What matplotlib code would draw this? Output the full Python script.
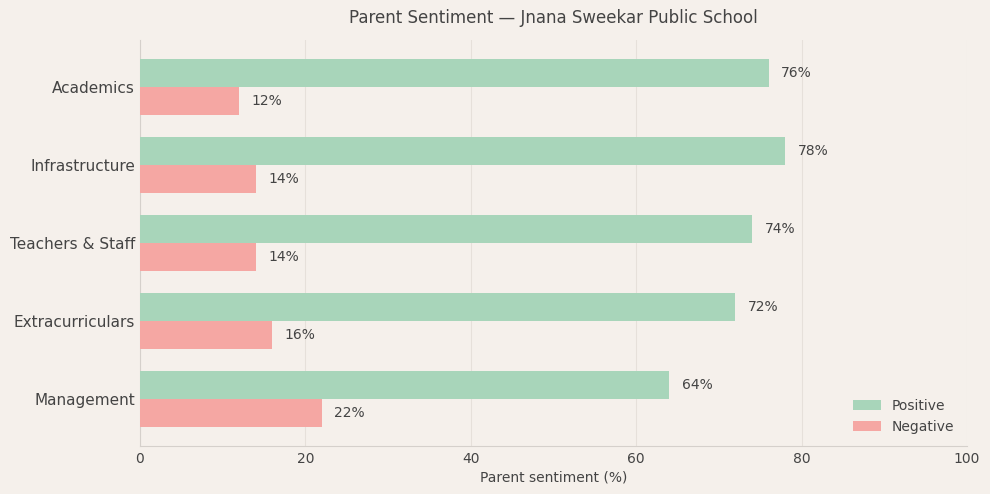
import matplotlib
matplotlib.use("Agg")
import matplotlib.pyplot as plt
import numpy as np

categories = ["Academics", "Infrastructure", "Teachers & Staff", "Extracurriculars", "Management"]
positive = [76, 78, 74, 72, 64]
negative = [12, 14, 14, 16, 22]

bg = "#f5f0eb"
green = "#a8d5ba"
red = "#f5a7a3"
txt = "#444444"

fig = plt.figure(figsize=(9.9, 4.94), dpi=100, facecolor=bg)
ax = fig.add_axes([140/990, 1-446/494, (967-140)/990, (446-40)/494], facecolor=bg)

y = np.arange(len(categories))[::-1]
h = 0.36
ax.barh(y + h/2, positive, height=h, color=green, label="Positive", zorder=3)
ax.barh(y - h/2, negative, height=h, color=red, label="Negative", zorder=3)

for yi, p, n in zip(y, positive, negative):
    ax.text(p + 1.5, yi + h/2, f"{p}%", va="center", ha="left", fontsize=10, color=txt)
    ax.text(n + 1.5, yi - h/2, f"{n}%", va="center", ha="left", fontsize=10, color=txt)

ax.set_yticks(y)
ax.set_yticklabels(categories, fontsize=11, color=txt)
ax.set_xlim(0, 100)
ax.set_ylim(-0.6, 4.6)
ax.tick_params(axis="x", labelsize=10, colors=txt, length=0, pad=4)
ax.tick_params(axis="y", length=0, pad=3.5)
ax.grid(axis="x", color="#e6e0da", linewidth=0.8, zorder=0)
for s in ["top", "right"]:
    ax.spines[s].set_visible(False)
for s in ["left", "bottom"]:
    ax.spines[s].set_color("#d5d0cb")
ax.set_xlabel("Parent sentiment (%)", fontsize=10, color=txt, labelpad=3.5)
ax.set_title("Parent Sentiment — Jnana Sweekar Public School", fontsize=12, color=txt, pad=12)
leg = ax.legend(loc="lower right", frameon=False, fontsize=10, labelcolor=txt)

fig.savefig("out.png", dpi=100, facecolor=bg)
